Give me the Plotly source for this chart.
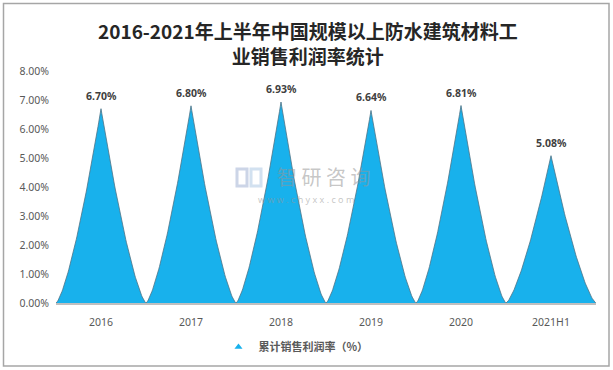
import numpy as np
import plotly.graph_objects as go

categories = ["2016", "2017", "2018", "2019", "2020", "2021H1"]
values = [6.70, 6.80, 6.93, 6.64, 6.81, 5.08]
value_labels = ["6.70%", "6.80%", "6.93%", "6.64%", "6.81%", "5.08%"]
y_ticks = [0, 1, 2, 3, 4, 5, 6, 7, 8]
series_name = "累计销售利润率（%）"
title_lines = ["2016-2021年上半年中国规模以上防水建筑材料工", "业销售利润率统计"]

FILL = "#18B1EC"
EDGE = "#4E7487"
TXT = "#595959"
NUM_FONT = "Noto Sans, Liberation Sans, sans-serif"
CJK_FONT = "Noto Sans CJK SC, sans-serif"

fig = go.Figure()

half = 0.5
t = np.linspace(-1, 1, 121)
for i, v in enumerate(values):
    xs = i + t * half
    ys = v * (1 - np.abs(t)) ** 1.4
    fig.add_trace(go.Scatter(
        x=list(xs), y=list(ys), mode="lines", fill="toself",
        fillcolor=FILL, line=dict(color=EDGE, width=0.8),
        showlegend=False, hoverinfo="skip"))

# legend entry
fig.add_trace(go.Scatter(
    x=[None], y=[None], mode="markers", name="<b>" + series_name + "</b>",
    marker=dict(symbol="triangle-up", size=7, color=FILL)))

annotations = []
for i, (v, lab) in enumerate(zip(values, value_labels)):
    annotations.append(dict(
        x=i, y=v, xref="x", yref="y", text="<b>" + lab + "</b>",
        showarrow=False, yanchor="bottom", yshift=4,
        font=dict(family=NUM_FONT, size=10.5, color="#404040")))

annotations.append(dict(
    x=(308 - 56) / 540, y=(303 - 43) / 232, xref="paper", yref="paper",
    text="<b>" + "<br>".join(title_lines) + "</b>", showarrow=False, yanchor="middle",
    font=dict(family=CJK_FONT, size=19, color="#262626")))

# watermark
annotations.append(dict(
    x=(323 - 56) / 540, y=(303 - 176) / 232, xref="paper", yref="paper",
    text="智 研 咨 询", showarrow=False, yanchor="middle",
    font=dict(family=CJK_FONT, size=20, color="rgba(150,150,150,0.55)")))
annotations.append(dict(
    x=(306 - 56) / 540, y=(303 - 199) / 232, xref="paper", yref="paper",
    text="w w w . c h y x x . c o m", showarrow=False, yanchor="middle",
    font=dict(family=NUM_FONT, size=9, color="rgba(150,150,150,0.55)")))

shapes = [
    dict(type="rect", xref="paper", yref="paper",
         x0=(3.5 - 56) / 540, x1=(609 - 56) / 540,
         y0=(303 - 366) / 232, y1=(303 - 3.5) / 232,
         line=dict(color="#A6A6A6", width=1.5), fillcolor="rgba(0,0,0,0)", layer="below"),
    # logo approximation
    dict(type="rect", xref="paper", yref="paper",
         x0=(237 - 56) / 540, x1=(247 - 56) / 540,
         y0=(303 - 186) / 232, y1=(303 - 169) / 232,
         line=dict(color="rgba(170,185,215,0.6)", width=3), fillcolor="rgba(0,0,0,0)"),
    dict(type="rect", xref="paper", yref="paper",
         x0=(251 - 56) / 540, x1=(261 - 56) / 540,
         y0=(303 - 186) / 232, y1=(303 - 169) / 232,
         line=dict(color="rgba(180,205,230,0.6)", width=3), fillcolor="rgba(0,0,0,0)"),
]

fig.update_layout(
    width=613, height=370,
    margin=dict(l=56, r=17, t=71, b=67, autoexpand=False),
    paper_bgcolor="white", plot_bgcolor="white",
    showlegend=True,
    legend=dict(orientation="h", x=(296 - 56) / 540, xanchor="center", y=(303 - 347) / 232,
                yanchor="middle", font=dict(family=CJK_FONT, size=11, color=TXT),
                itemwidth=30, bgcolor="rgba(0,0,0,0)"),
    annotations=annotations,
    shapes=shapes,
    xaxis=dict(range=[-0.5, 5.5], tickmode="array", tickvals=list(range(len(categories))),
               ticktext=categories, showgrid=False, zeroline=False,
               showline=True, linecolor="#BFBFBF", linewidth=2,
               ticks="", ticklabelstandoff=8,
               tickfont=dict(family=NUM_FONT, size=10.5, color=TXT), fixedrange=True),
    yaxis=dict(range=[0, 8], tickmode="array", tickvals=y_ticks,
               ticktext=["%.2f%%" % v for v in y_ticks], showgrid=False, zeroline=False,
               showline=False, ticks="", ticklabelstandoff=6,
               tickfont=dict(family=NUM_FONT, size=10.5, color=TXT), fixedrange=True),
)

fig.write_html("out.html", config={"displayModeBar": False},
               post_script="document.body.style.margin='0';document.body.style.overflow='hidden';")
